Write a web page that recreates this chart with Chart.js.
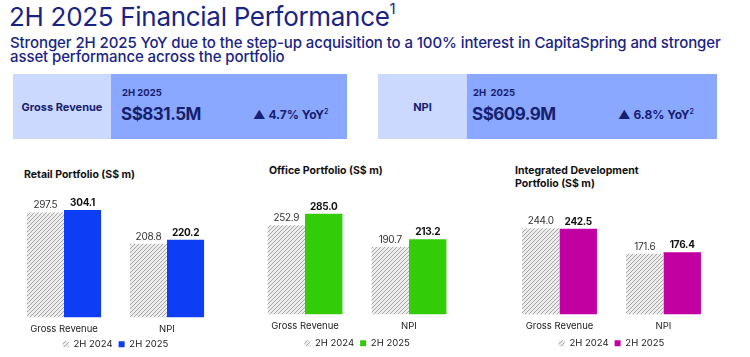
<!DOCTYPE html>
<html>
<head>
<meta charset="utf-8">
<script src="https://cdn.jsdelivr.net/npm/chart.js@4.4.1/dist/chart.umd.min.js"></script>
<style>
  html, body { margin:0; padding:0; background:#fff; }
  body { width:750px; height:357px; position:relative; overflow:hidden; font-family: Inter, "Noto Sans", sans-serif; }
  .abs { position:absolute; }
  #title { left:9px; top:1px; font-size:26px; font-weight:400; color:#1a2483; letter-spacing:-0.3px; white-space:nowrap; }
  #title sup { font-size:15px; vertical-align:top; position:relative; top:-2px; }
  #subtitle { left:10px; top:36px; font-size:15px; font-weight:500; color:#1a2483; line-height:14px; letter-spacing:-0.1px; white-space:nowrap; }
  .kpi { top:74px; height:65px; background:#8aa8ff; }
  .kpi .lab { position:absolute; left:0; top:0; height:65px; background:#cbd9ff; display:flex; align-items:center; justify-content:center; font-weight:700; font-size:11px; color:#16206e; }
  .kpi .per { position:absolute; top:13px; font-size:9.5px; font-weight:700; color:#16206e; }
  .kpi .val { position:absolute; top:30px; font-size:17px; font-weight:700; color:#16206e; letter-spacing:-0.5px; }
  .kpi .yoy { position:absolute; top:33px; font-size:12px; font-weight:700; color:#16206e; }
  .kpi .yoy sup { font-size:7px; font-weight:600; }
  .ctitle { font-size:10.5px; font-weight:700; color:#111; line-height:12.5px; }
  canvas { display:block; }
</style>
</head>
<body>
<div id="title" class="abs">2H 2025 Financial Performance<sup>1</sup></div>
<div id="subtitle" class="abs">Stronger 2H 2025 YoY due to the step-up acquisition to a 100% interest in CapitaSpring and stronger<br>asset performance across the portfolio</div>

<div class="abs kpi" style="left:13px;width:334px;">
  <div class="lab" style="width:98px;">Gross Revenue</div>
  <div class="per" style="left:109px;">2H 2025</div>
  <div class="val" style="left:108px;">S$831.5M</div>
  <div class="yoy" style="left:240px;">▲ 4.7% YoY<sup>2</sup></div>
</div>
<div class="abs kpi" style="left:378px;width:339px;">
  <div class="lab" style="width:89px;">NPI</div>
  <div class="per" style="left:95px;">2H&nbsp;&nbsp;2025</div>
  <div class="val" style="left:94px;">S$609.9M</div>
  <div class="yoy" style="left:240px;">▲ 6.8% YoY<sup>2</sup></div>
</div>

<div class="abs ctitle" style="left:24px;top:169px;">Retail Portfolio (S$ m)</div>
<div class="abs ctitle" style="left:269px;top:165px;">Office Portfolio (S$ m)</div>
<div class="abs ctitle" style="left:515px;top:165px;">Integrated Development<br>Portfolio (S$ m)</div>

<div class="abs" style="left:0;top:191px;width:235px;height:168px;"><canvas id="c1" width="235" height="168"></canvas></div>
<div class="abs" style="left:240px;top:188px;width:235px;height:170px;"><canvas id="c2" width="235" height="170"></canvas></div>
<div class="abs" style="left:495px;top:188px;width:235px;height:170px;"><canvas id="c3" width="235" height="170"></canvas></div>

<script>
const categories = ['Gross Revenue', 'NPI'];
const seriesLabels = ['2H 2024', '2H 2025'];
const retail2024 = [297.5, 208.8];
const retail2025 = [304.1, 220.2];
const office2024 = [252.9, 190.7];
const office2025 = [285.0, 213.2];
const integrated2024 = [244.0, 171.6];
const integrated2025 = [242.5, 176.4];

function hatch() {
  const c = document.createElement('canvas');
  c.width = 4; c.height = 4;
  const x = c.getContext('2d');
  x.fillStyle = '#ececec';
  x.fillRect(0, 0, 4, 4);
  x.strokeStyle = '#a8a8a8';
  x.lineWidth = 1;
  x.beginPath();
  x.moveTo(0, 4); x.lineTo(4, 0);
  x.moveTo(-1, 1); x.lineTo(1, -1);
  x.moveTo(3, 5); x.lineTo(5, 3);
  x.stroke();
  return x.createPattern(c, 'repeat');
}

const valueLabels = {
  id: 'valueLabels',
  afterDatasetsDraw(chart) {
    const ctx = chart.ctx;
    ctx.save();
    ctx.textAlign = 'center';
    ctx.textBaseline = 'bottom';
    try { ctx.letterSpacing = '-0.3px'; } catch (e) {}
    chart.data.datasets.forEach((ds, di) => {
      const meta = chart.getDatasetMeta(di);
      meta.data.forEach((bar, i) => {
        ctx.font = (di === 1 ? '700 ' : '400 ') + '10px Inter, sans-serif';
        ctx.fillStyle = di === 1 ? '#111' : '#333';
        ctx.fillText(ds.data[i].toFixed(1), bar.x, bar.y - 2);
      });
    });
    ctx.restore();
  }
};

function makeChart(id, d2024, d2025, color, pad, axisH) {
  return new Chart(document.getElementById(id), {
    type: 'bar',
    data: {
      labels: categories,
      datasets: [
        { label: seriesLabels[0], data: d2024, backgroundColor: hatch(), borderWidth: 0 },
        { label: seriesLabels[1], data: d2025, backgroundColor: color, borderWidth: 0 }
      ]
    },
    options: {
      responsive: false,
      animation: false,
      devicePixelRatio: 1,
      layout: { padding: { left: pad[0], right: pad[1], top: 0, bottom: 0 } },
      datasets: { bar: { categoryPercentage: 0.72, barPercentage: 1.0 } },
      scales: {
        x: {
          grid: { display: false, drawTicks: false },
          border: { display: false },
          ticks: { color: '#222', font: { family: 'Inter', size: 9.5 }, padding: 6 },
          afterFit(scale) { scale.height = axisH; }
        },
        y: { display: false, min: 0, max: 358 }
      },
      plugins: {
        legend: {
          position: 'bottom',
          labels: { boxWidth: 6, boxHeight: 6, padding: 6, color: '#222', font: { family: 'Inter', size: 9.5 } }
        },
        tooltip: { enabled: false }
      }
    },
    plugins: [valueLabels]
  });
}

makeChart('c1', retail2024, retail2025, '#0d3ef5', [12.5, 16.5], 16);
makeChart('c2', office2024, office2025, '#33cc08', [13, 14], 18);
makeChart('c3', integrated2024, integrated2025, '#c200a2', [12.5, 14.5], 18);
</script>
</body>
</html>
